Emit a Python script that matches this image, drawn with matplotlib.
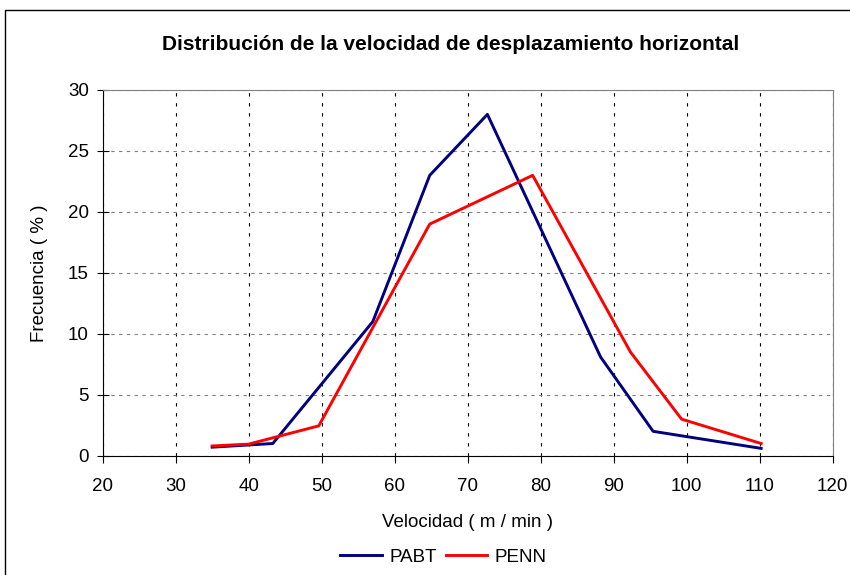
import matplotlib.pyplot as plt
from matplotlib.patches import Rectangle

plt.rcParams['font.family'] = ['Liberation Sans', 'DejaVu Sans']

# class midpoints (m/min) and frequency (%)
pabt_x = [35.0, 43.3, 57.0, 64.8, 72.7, 88.2, 95.4, 110.2]
pabt_y = [0.7, 1.0, 11.0, 23.0, 28.0, 8.1, 2.0, 0.6]
penn_x = [35.0, 40.0, 49.6, 64.8, 78.9, 92.3, 99.3, 110.2]
penn_y = [0.8, 0.95, 2.45, 19.0, 23.0, 8.5, 3.0, 1.0]

x_ticks = [20, 30, 40, 50, 60, 70, 80, 90, 100, 110, 120]
y_ticks = [0, 5, 10, 15, 20, 25, 30]

fig = plt.figure(figsize=(8.5, 5.75), dpi=100)
ax = fig.add_axes([102.7 / 850, 1 - 455.7 / 575, (832.7 - 102.7) / 850, (455.7 - 90) / 575])

# outer chart border
fig.patches.append(Rectangle((5 / 850, -0.05), 1.1, 1 - 10 / 575 + 0.05,
                             transform=fig.transFigure, fill=False,
                             edgecolor='black', linewidth=1.0))

ax.plot(pabt_x, pabt_y, color='#000080', linewidth=2.1, label='PABT')
ax.plot(penn_x, penn_y, color='#ff0000', linewidth=2.1, label='PENN')

ax.set_xlim(20, 120)
ax.set_ylim(0, 30)
ax.set_xticks(x_ticks)
ax.set_yticks(y_ticks)

ax.xaxis.grid(True, color='black', linestyle=(0, (3, 6)), linewidth=0.8)
ax.yaxis.grid(True, color='#808080', linestyle=(0, (3, 4)), linewidth=0.8)
ax.set_axisbelow(True)

for s in ['top', 'right']:
    ax.spines[s].set_color('#808080')
for s in ['left', 'bottom']:
    ax.spines[s].set_color('black')

ax.tick_params(axis='x', direction='out', length=5, width=0.8, pad=11, labelsize=13.5)
ax.tick_params(axis='y', direction='inout', length=8, width=0.8, pad=6, labelsize=13.5)

ax.set_title('Distribución de la velocidad de desplazamiento horizontal',
             fontsize=15, fontweight='bold', pad=29, x=0.476)
ax.set_xlabel('Velocidad ( m / min )', fontsize=13.5, labelpad=14)
ax.set_ylabel('Frecuencia ( % )', fontsize=13.5, labelpad=14)

ax.legend(loc='center', bbox_to_anchor=(0.467, -0.277), ncol=2, frameon=False,
          fontsize=13.5, handlelength=2.2, columnspacing=0.5, handletextpad=0.4)

fig.savefig('out.png', dpi=100)
